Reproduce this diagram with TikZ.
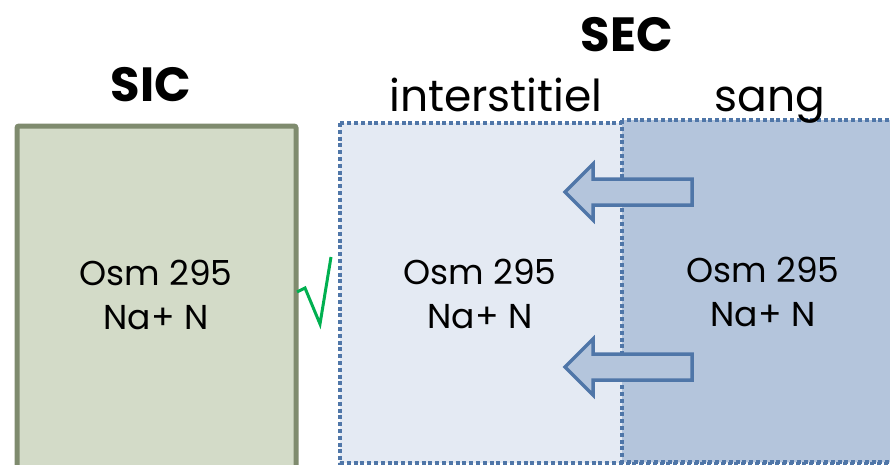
\documentclass[tikz,border=0pt]{standalone}
\usepackage{fontspec}
\setmainfont{Poppins}
\definecolor{sicfill}{HTML}{D3DBC8}
\definecolor{sicline}{HTML}{7F8B6E}
\definecolor{intfill}{HTML}{E4EAF3}
\definecolor{sangfill}{HTML}{B4C5DC}
\definecolor{secline}{HTML}{4F76A8}
\definecolor{okgreen}{HTML}{00B050}
\tikzset{
  compart/.style={line width=4pt, draw=secline, dash pattern=on 4pt off 2.8pt},
  flux/.style={line width=3.5pt, draw=secline, fill=sangfill, line join=miter},
  titre/.style={font=\fontsize{48}{52}\selectfont\bfseries, anchor=base},
  souscomp/.style={font=\fontsize{44}{48}\selectfont, anchor=base},
  valeurs/.style={font=\fontsize{34.5}{44}\selectfont, align=center}
}
\begin{document}
\begin{tikzpicture}[x=1pt,y=-1pt]
    \useasboundingbox (0,0) rectangle (890,464);
    \clip (0,0) rectangle (890,464);
    % compartiments
    \draw[line width=5pt, draw=sicline, fill=sicfill, rounded corners=2pt] (17,126) rectangle (296,490);
    \draw[compart, fill=intfill] (340,123) rectangle (910,463);
    \draw[compart, fill=sangfill] (622,120) rectangle (910,462);
    % titres
    \node[titre] (sic) at (151,101) {SIC};
    \node[titre] (sec) at (627,51) {SEC};
    \node[souscomp] (inter) at (496,111) {interstitiel};
    \node[souscomp] (sang) at (770,111) {sang};
    % contenu
    \node[valeurs] (vsic) at (156,295) {Osm 295\\Na+ N};
    \node[valeurs] (vinter) at (480,294) {Osm 295\\Na+ N};
    \node[valeurs] (vsang) at (763,292) {Osm 295\\Na+ N};
    % fleches sang -> interstitiel
    \draw[flux] (692,179) -- (593,179) -- (593,164) -- (565,192) -- (593,220) -- (593,205) -- (692,205) -- cycle;
    \draw[flux] (692,354) -- (593,354) -- (593,339) -- (565,367) -- (593,395) -- (593,380) -- (692,380) -- cycle;
    % coche
    \draw[okgreen, line width=3pt, line join=miter] (297,292) -- (305,288) -- (320,324) -- (331,257);
\end{tikzpicture}
\end{document}
